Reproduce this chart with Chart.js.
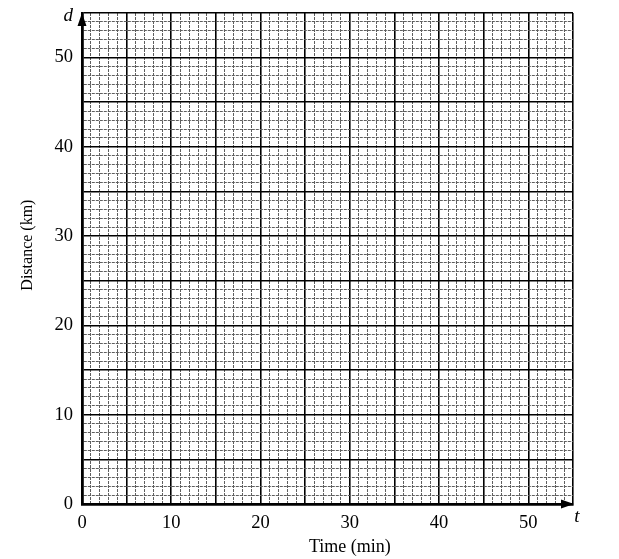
<!DOCTYPE html>
<html>
<head>
<meta charset="utf-8">
<script src="https://cdn.jsdelivr.net/npm/chart.js@4/dist/chart.umd.min.js"></script>
<style>
html,body{margin:0;padding:0;background:#fff;}
#wrap{position:relative;width:619px;height:559px;}
</style>
</head>
<body>
<div id="wrap"><canvas id="c" width="619" height="559"></canvas></div>
<script>
// ---- data (blank graph paper: no plotted series) ----
const xLabelTicks = [0, 10, 20, 30, 40, 50];
const yLabelTicks = [0, 10, 20, 30, 40, 50];
const xMin = 0, xMax = 55;
const yMin = 0, yMax = 55;
const minorStep = 1;
const majorStep = 5;
const xTitle = 'Time (min)';
const yTitle = 'Distance (km)';
const xVar = 't';
const yVar = 'd';
const points = [];

const SERIF = '"Liberation Serif", "DejaVu Serif", serif';

function isMajor(v) { return Math.abs(v / majorStep - Math.round(v / majorStep)) < 1e-6; }

function gridColor(ctx) {
  if (!ctx.tick) return '#000';
  return isMajor(ctx.tick.value) ? '#000' : '#5e5e5e';
}
function gridWidth(ctx) {
  if (!ctx.tick) return 1;
  return isMajor(ctx.tick.value) ? 1.6 : 1;
}
function gridDash(ctx) {
  if (!ctx.tick) return [];
  return isMajor(ctx.tick.value) ? [] : [3, 1];
}

const decor = {
  id: 'decor',
  afterDraw(chart) {
    const c = chart.ctx;
    const a = chart.chartArea;
    const xs = chart.scales.x, ys = chart.scales.y;
    c.save();
    c.fillStyle = '#000';
    // arrow heads at the ends of the axes
    c.beginPath();
    c.moveTo(a.left, a.top);
    c.lineTo(a.left - 4.5, a.top + 13);
    c.lineTo(a.left + 4.5, a.top + 13);
    c.closePath();
    c.fill();
    c.beginPath();
    c.moveTo(a.right + 1, a.bottom);
    c.lineTo(a.right - 12, a.bottom - 4.5);
    c.lineTo(a.right - 12, a.bottom + 4.5);
    c.closePath();
    c.fill();
    // variable names
    c.font = 'italic 19px ' + SERIF;
    c.textAlign = 'right';
    c.textBaseline = 'alphabetic';
    c.fillText(yVar, a.left - 9, a.top + 8);
    c.textAlign = 'center';
    c.fillText(xVar, a.right + 4, a.bottom + 18);
    // axis titles
    c.textAlign = 'center';
    c.textBaseline = 'middle';
    c.font = '18px ' + SERIF;
    c.fillText(xTitle, xs.getPixelForValue(30), a.bottom + 43);
    c.font = '16px ' + SERIF;
    c.save();
    c.translate(a.left - 54, ys.getPixelForValue(29));
    c.rotate(-Math.PI / 2);
    c.fillText(yTitle, 0, 0);
    c.restore();
    c.restore();
  }
};

new Chart(document.getElementById('c'), {
  type: 'scatter',
  data: { datasets: [{ data: points, showLine: false }] },
  options: {
    responsive: false,
    devicePixelRatio: 1,
    animation: false,
    layout: { padding: { left: 0, right: 46, top: 13, bottom: 0 } },
    plugins: { legend: { display: false }, tooltip: { enabled: false } },
    scales: {
      x: {
        type: 'linear',
        min: xMin, max: xMax,
        afterFit(s) { s.height = 55; s.paddingLeft = 0; s.paddingRight = 0; },
        ticks: {
          stepSize: minorStep,
          autoSkip: false,
          maxRotation: 0,
          padding: 8,
          color: '#000',
          font: { family: SERIF, size: 18.5 },
          callback: v => xLabelTicks.includes(v) ? String(v) : ''
        },
        grid: { color: gridColor, lineWidth: gridWidth, drawTicks: false },
        border: { display: true, color: '#000', width: 2.8, dash: gridDash }
      },
      y: {
        type: 'linear',
        min: yMin, max: yMax,
        afterFit(s) { s.width = 82; s.paddingTop = 0; s.paddingBottom = 0; },
        ticks: {
          stepSize: minorStep,
          autoSkip: false,
          padding: 9,
          color: '#000',
          font: { family: SERIF, size: 18.5 },
          callback: v => yLabelTicks.includes(v) ? String(v) : ''
        },
        grid: { color: gridColor, lineWidth: gridWidth, drawTicks: false },
        border: { display: true, color: '#000', width: 2.8, dash: gridDash }
      }
    }
  },
  plugins: [decor]
});
</script>
</body>
</html>
